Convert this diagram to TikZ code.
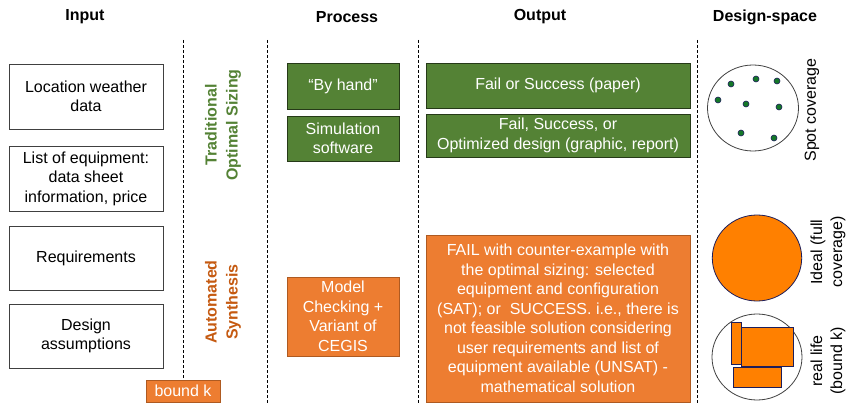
\documentclass[tikz,border=0pt]{standalone}
\usepackage{fontspec}
\setmainfont{Liberation Sans}
\usepackage{tikz}
\usetikzlibrary{calc}

\definecolor{leaf}{RGB}{84,130,53}
\definecolor{leafdark}{RGB}{38,58,24}
\definecolor{pumpkin}{RGB}{237,125,49}
\definecolor{rust}{RGB}{174,90,33}
\definecolor{synth}{RGB}{197,90,17}
\definecolor{blaze}{RGB}{255,128,0}
\definecolor{navy}{RGB}{30,30,90}
\definecolor{edge}{RGB}{64,64,64}
\definecolor{spot}{RGB}{20,120,40}

\begin{document}
\begin{tikzpicture}[x=1pt,y=-1pt,font=\fontsize{16}{19.5}\selectfont]
\tikzset{
	head node/.style = {font=\fontsize{16}{19.5}\selectfont\bfseries},
	input box/.style = {rectangle, draw=edge, line width=0.9pt, fill=white, align=center, inner sep=0, minimum width=154},
	green box/.style = {rectangle, draw=leafdark, line width=0.9pt, fill=leaf, text=white, align=center, inner sep=0},
	orange box/.style = {rectangle, draw=rust, line width=0.9pt, fill=pumpkin, text=white, align=center, inner sep=0},
	side label/.style = {rotate=90, align=center, font=\fontsize{16}{21}\selectfont\bfseries},
	space label/.style = {rotate=90, align=center, font=\fontsize{16}{20}\selectfont},
	sep line/.style = {dashed, dash pattern=on 3pt off 2pt, line width=0.6pt},
	spot dot/.style = {circle, draw=navy, fill=spot, line width=0.6pt, inner sep=0, minimum size=6},
	zone/.style = {draw=navy, fill=blaze, line width=0.8pt},
}
\useasboundingbox (0,0) rectangle (855,404);

\foreach \x in {183,267,418,697}
	\draw [sep line] (\x,40) -- (\x,404);

\node(hin)[head node] at (85,17) {Input};
\node(hpr)[head node] at (347,17) {Process};
\node(hout)[head node] at (540,17) {Output};
\node(hds)[head node] at (765,17) {Design-space};

\node(in1)[input box, minimum height=65] at (86,96.5) {Location weather\\data};
\node(in2)[input box, minimum height=65] at (86,178.5) {List of equipment:\\data sheet\\information, price};
\node(in3)[input box, minimum height=64] at (86,258) {Requirements};
\node(in4)[input box, minimum height=64] at (86,336) {Design\\assumptions};
\node(bk)[orange box, minimum width=74, minimum height=22] at (183,391) {bound k};

\node(trad)[side label, text=leaf] at (223,125) {Traditional\\Optimal Sizing};
\node(auto)[side label, text=synth] at (223,302) {Automated\\Synthesis};

\node(hand)[green box, minimum width=112, minimum height=46] at (343,86) {``By hand''};
\node(sim)[green box, minimum width=112, minimum height=45] at (343,138.5) {Simulation\\software};
\node(mc)[orange box, minimum width=112, minimum height=79] at (343,316.5) {Model\\Checking +\\Variant of\\CEGIS};

\node(paper)[green box, minimum width=264, minimum height=45] at (558,85.5) {Fail or Success (paper)};
\node(opt)[green box, minimum width=264, minimum height=43] at (558,135.5) {Fail, Success, or\\Optimized design (graphic, report)};
\node(fail)[orange box, minimum width=264, minimum height=167] at (558,318.5) {FAIL with counter-example with\\the optimal sizing: selected\\equipment and configuration\\(SAT); or~ SUCCESS. i.e., there is\\not feasible solution considering\\user requirements and list of\\equipment available (UNSAT) -\\mathematical solution};

\draw [edge, line width=0.8pt] (753,108) ellipse (45.5 and 43);
\foreach \x/\y in {731/84,756/79,777/81,718/100,746/104,779/107,741/133,774/138}
	\node [spot dot] at (\x,\y) {};
\node(spot)[space label] at (812,110) {Spot coverage};

\draw [zone] (757,258) ellipse (44.7 and 43);
\node(ideal)[space label] at (828,252) {Ideal (full\\coverage)};

\draw [edge, line width=0.8pt] (757,357) ellipse (45 and 43);
\draw [zone] (741,327) rectangle (793,366);
\draw [zone] (731,322) rectangle (741,364);
\draw [zone] (733,367) rectangle (781,387);
\node(real)[space label] at (828,361) {real life\\(bound k)};

\end{tikzpicture}
\end{document}
